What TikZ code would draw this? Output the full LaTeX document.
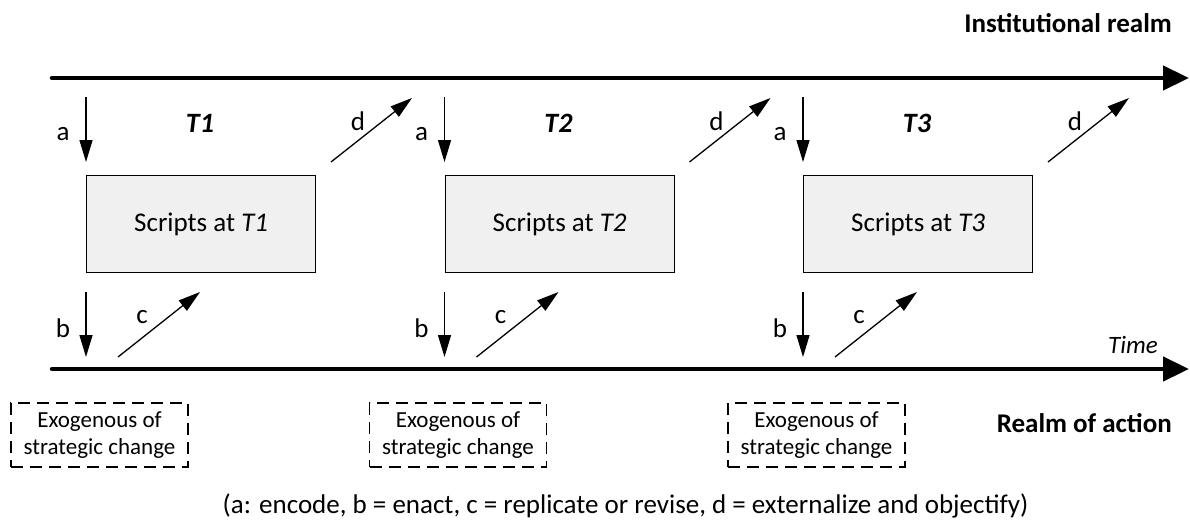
\documentclass[tikz,border=0pt]{standalone}
\usepackage{fontspec}
\setmainfont{Carlito}
\usetikzlibrary{arrows.meta}

\begin{document}
\begin{tikzpicture}[x=1pt,y=-1pt,
  axis/.style={line width=4.5pt, line cap=round, -{Triangle[length=26pt,width=24pt]}},
  flow/.style={line width=1.3pt, -{Triangle[length=22pt,width=13pt]}},
  script/.style={draw, line width=1.3pt, fill=black!6, minimum width=229pt,
    minimum height=97pt, inner sep=0pt, font=\fontsize{27}{32}\selectfont},
  exo/.style={draw, line width=1.2pt, dash pattern=on 12pt off 7pt,
    minimum width=177pt, minimum height=64pt, inner sep=0pt, align=center,
    font=\fontsize{23}{27}\selectfont},
  lbl/.style={inner sep=0pt, font=\fontsize{27}{32}\selectfont},
  tlbl/.style={inner sep=0pt, font=\fontsize{28}{32}\selectfont\bfseries\itshape},
  realm/.style={inner sep=0pt, anchor=east, font=\fontsize{27}{32}\selectfont\bfseries}]
\useasboundingbox (0,0) rectangle (1190,522);

% realms and time axes
\node[realm] (inst) at (1172,23) {Institutional realm};
\node[realm] (act) at (1172,423) {Realm of action};
\coordinate (topL) at (52,78);
\coordinate (topR) at (1189,78);
\coordinate (botL) at (52,369);
\coordinate (botR) at (1189,369);
\draw[axis] (topL) -- (topR);
\draw[axis] (botL) -- (botR);
\node[inner sep=0pt, anchor=east, font=\fontsize{25}{30}\selectfont\itshape] (time) at (1158,345) {Time};

% one period of scripts per time step
\foreach \k in {1,2,3}{
  \pgfmathsetmacro{\dx}{(\k-1)*358.5}
  \begin{scope}[xshift=\dx]
    \node[script, anchor=north west] (box\k) at (86,175) {Scripts at \textit{T\k}};
    \node[tlbl] (t\k) at (200,123) {T\k};
    % encode
    \coordinate (as\k) at (86,97);
    \coordinate (ae\k) at (86,162);
    \draw[flow] (as\k) -- (ae\k);
    \node[lbl] (la\k) at (63,134) {a};
    % externalize and objectify
    \coordinate (ds\k) at (331,162);
    \coordinate (de\k) at (412,98);
    \draw[flow] (ds\k) -- (de\k);
    \node[lbl] (ld\k) at (358,121) {d};
    % enact
    \coordinate (bs\k) at (86,292);
    \coordinate (be\k) at (86,357);
    \draw[flow] (bs\k) -- (be\k);
    \node[lbl] (lb\k) at (63,328) {b};
    % replicate or revise
    \coordinate (cs\k) at (118,357);
    \coordinate (ce\k) at (200,292);
    \draw[flow] (cs\k) -- (ce\k);
    \node[lbl] (lc\k) at (142,317) {c};
    % exogenous change
    \node[exo] (exo\k) at (99.5,435) {Exogenous of\\strategic change};
  \end{scope}
}

\node[inner sep=0pt, font=\fontsize{27}{32}\selectfont] (legend) at (625.5,506)
  {(a: encode, b = enact, c = replicate or revise, d = externalize and objectify)};
\end{tikzpicture}
\end{document}
